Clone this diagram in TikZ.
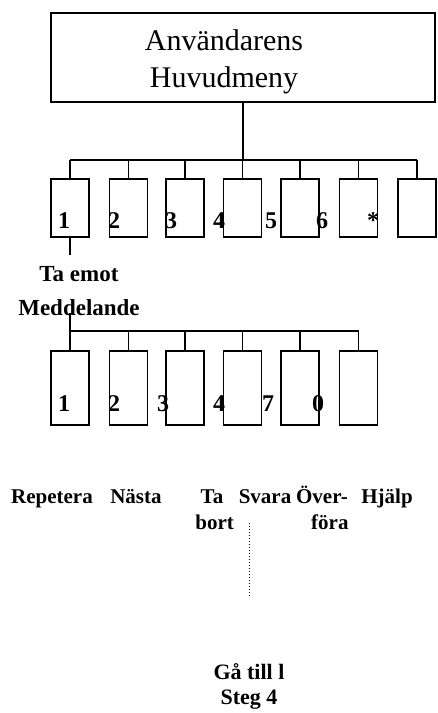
\documentclass[tikz,border=0pt]{standalone}
\usepackage{fontspec}
\setmainfont{Liberation Serif}
\begin{document}
\begin{tikzpicture}[x=1pt,y=-1pt,
  ln/.style={line width=1.2pt},
  keybox/.style={draw,line width=1.2pt,minimum width=38pt,inner sep=0pt},
  topkey/.style={keybox,minimum height=58pt},
  lowkey/.style={keybox,minimum height=74pt},
  num/.style={font=\fontsize{24}{24}\selectfont\bfseries,inner sep=0pt,anchor=base},
  blab/.style={font=\fontsize{21}{26}\selectfont\bfseries,inner sep=0pt,align=center,anchor=base},
  hdr/.style={font=\fontsize{30}{37}\selectfont,align=center,inner sep=0pt,anchor=base}]
\useasboundingbox (0,0) rectangle (438,713);
% top box
\node[draw,line width=1.2pt,minimum width=384pt,minimum height=89pt] (top) at (243,57.5) {};
\node[hdr] (toptext) at (224,87) {Användarens\\Huvudmeny};
\coordinate (hub) at (243,160);
\coordinate (barL) at (70,160);
\coordinate (barR) at (417,160);
\draw[ln] (top.south) -- (hub);
\draw[ln] (barL) -- (barR);
% top keys
\foreach \i/\x in {1/70,2/128.5,3/185,4/242.5,5/300,6/358.5,7/417}{
  \node[topkey] (k\i) at (\x,208) {};
  \draw[ln] (k\i.north |- barL) -- (k\i.north);
}
\node[num] (n1) at (64,228) {1};
\node[num] (n2) at (114,228) {2};
\node[num] (n3) at (171,228) {3};
\node[num] (n4) at (219,228) {4};
\node[num] (n5) at (271,228) {5};
\node[num] (n6) at (322,228) {6};
\node[num] (n7) at (373,228) {*};
% Ta emot
\node[font=\fontsize{23}{34}\selectfont\bfseries,align=center,inner sep=0pt,anchor=base] (ta) at (79,315) {Ta emot\\Meddelande};
\coordinate (t1) at (70,255);
\draw[ln] (k1.south) -- (t1);
\coordinate (m1) at (70,313);
\coordinate (bar2L) at (70,331);
\coordinate (bar2R) at (358.5,331);
\draw[ln] (m1) -- (bar2L);
\draw[ln] (bar2L) -- (bar2R);
\foreach \i/\x in {1/70,2/128.5,3/185,4/242.5,5/300,6/358.5}{
  \node[lowkey] (b\i) at (\x,388) {};
  \draw[ln] (b\i.north |- bar2L) -- (b\i.north);
}
\node[num] (c1) at (64,411) {1};
\node[num] (c2) at (114,411) {2};
\node[num] (c3) at (163,411) {3};
\node[num] (c4) at (219,411) {4};
\node[num] (c5) at (268,411) {7};
\node[num] (c6) at (318,411) {0};
% bottom labels
\node[blab] (l1) at (52,503) {Repetera};
\node[blab] (l2) at (136,503) {Nästa};
\node[blab] (l3) at (212,529) {Ta\\\ bort};
\node[blab] (l4) at (265,503) {Svara};
\node[blab] (l5) at (322,529) {Över-\\\ \ \ föra};
\node[blab] (l6) at (387,503) {Hjälp};
\coordinate (d1) at (249,523);
\coordinate (d2) at (249,598);
\draw[line width=1pt,dotted] (d1) -- (d2);
\node[blab,font=\fontsize{22}{25}\selectfont\bfseries] (goto) at (249,704) {Gå till l\\Steg 4};
\end{tikzpicture}
\end{document}
